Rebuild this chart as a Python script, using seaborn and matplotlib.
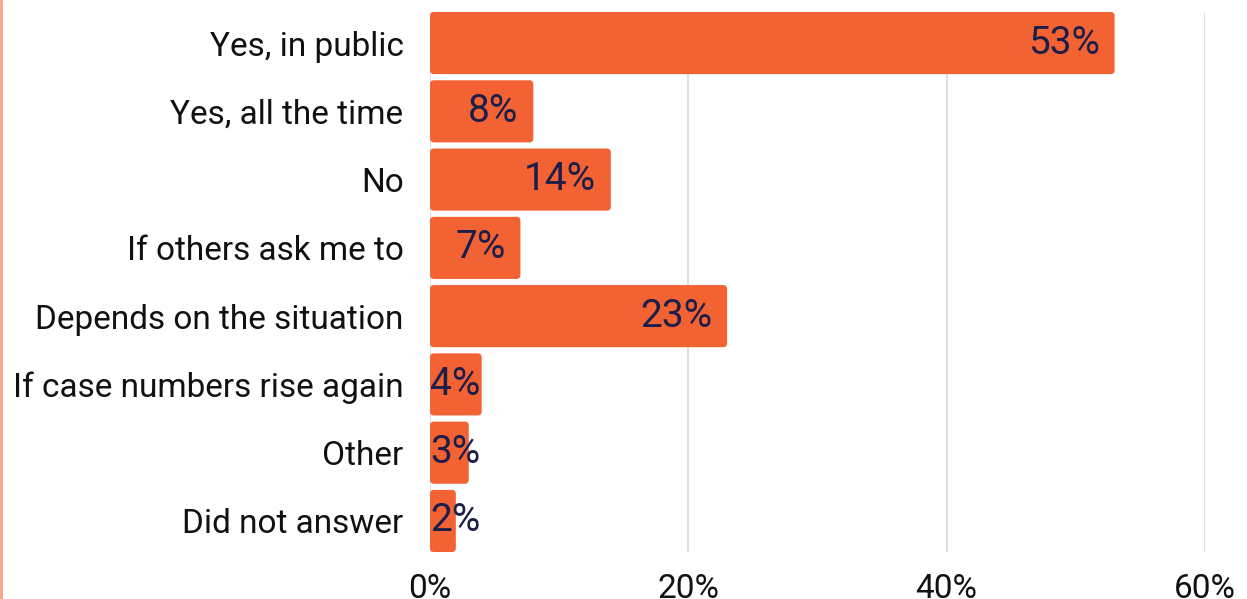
import matplotlib
matplotlib.use("Agg")
import matplotlib.pyplot as plt
import seaborn as sns
import pandas as pd
from matplotlib.patches import FancyBboxPatch
from matplotlib.lines import Line2D

categories = ["Yes, in public", "Yes, all the time", "No", "If others ask me to",
              "Depends on the situation", "If case numbers rise again", "Other",
              "Did not answer"]
values = [53, 8, 14, 7, 23, 4, 3, 2]
xticks = [0, 20, 40, 60]
xticklabels = ["0%", "20%", "40%", "60%"]

BAR = "#F26232"
NAVY = "#1C1E4A"

sns.set_theme(style="white")
plt.rcParams['font.family'] = ['Roboto', 'DejaVu Sans']

df = pd.DataFrame({"cat": categories, "val": values})

fig = plt.figure(figsize=(12.47, 5.99), dpi=100)
ax = fig.add_axes([430/1247, 1-552/599, (1205-430)/1247, 540/599])

sns.barplot(data=df, y="cat", x="val", color=BAR, width=0.91, ax=ax,
            saturation=1, zorder=3)

# rounded corners
for p in list(ax.patches):
    x, y, w, h = p.get_x(), p.get_y(), p.get_width(), p.get_height()
    p.remove()
    fb = FancyBboxPatch((x, y), w, h, boxstyle="round,pad=0,rounding_size=0.3",
                        mutation_aspect=0.2, facecolor=BAR, edgecolor="none",
                        zorder=3)
    ax.add_patch(fb)

ax.set_xlim(0, 60)
ax.set_ylim(7.455, -0.455)
ax.set_xticks(xticks)
ax.set_xticklabels(xticklabels)
ax.xaxis.grid(True, color="#D9D9D9", linewidth=1.2, zorder=0)
ax.yaxis.grid(False)
for s in ax.spines.values():
    s.set_visible(False)
ax.set_xlabel("")
ax.set_ylabel("")
ax.tick_params(axis="y", length=0, pad=19, labelsize=24, labelcolor="#111111")
ax.tick_params(axis="x", length=0, pad=15, labelsize=24, labelcolor="#111111")
for t in ax.get_yticklabels():
    t.set_va("center_baseline")

for i, v in enumerate(values):
    xr = max(v - 1.15, 3.9)
    ax.text(xr, i, f"{v}%", ha="right", va="center", fontsize=28,
            color=NAVY, zorder=4)

fig.add_artist(Line2D([0.0012, 0.0012], [0, 1], transform=fig.transFigure,
                      color="#F4A584", linewidth=2))

fig.savefig("out.png", dpi=100)
